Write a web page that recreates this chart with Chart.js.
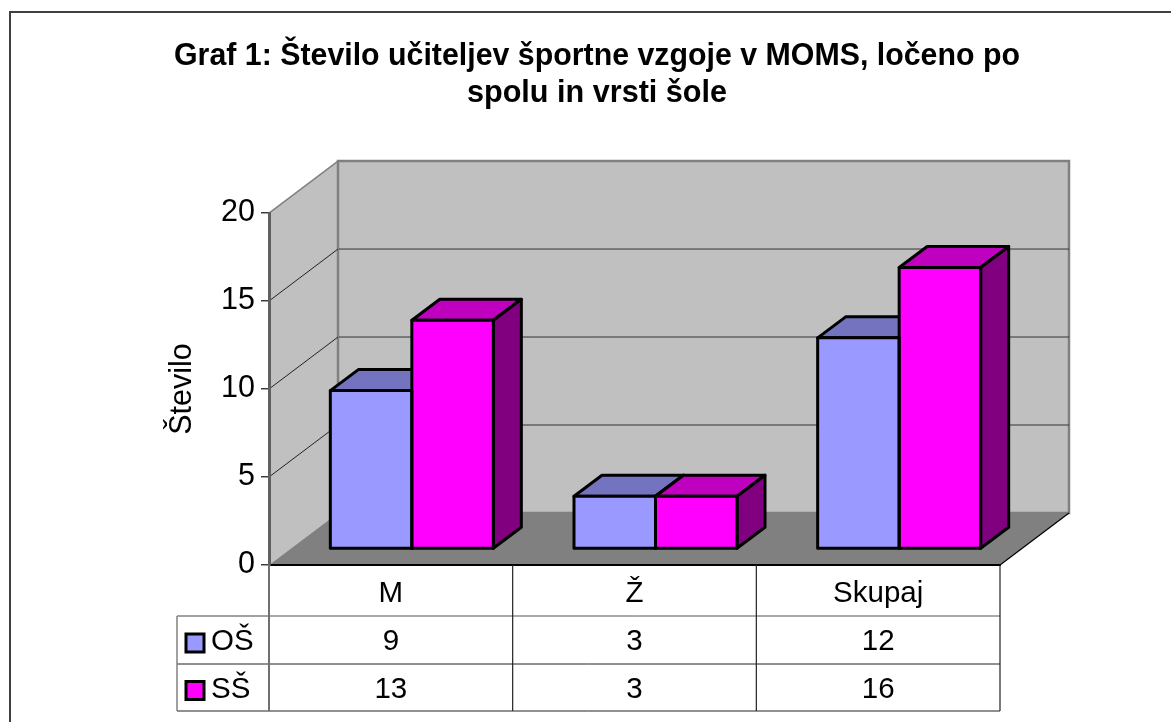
<!DOCTYPE html>
<html>
<head>
<meta charset="utf-8">
<title>Graf 1</title>
<script src="https://cdn.jsdelivr.net/npm/chart.js@4/dist/chart.umd.min.js"></script>
<style>
  html, body { margin: 0; background: #fff; overflow: hidden; }
  #frame { position: absolute; left: 9px; top: 11px; right: 0; bottom: 0; border-left: 2px solid #404040; border-top: 2px solid #404040; }
  #chart { position: absolute; left: 0; top: 0; }
</style>
</head>
<body>
<div id="frame"></div>
<canvas id="chart" width="1171" height="722"></canvas>
<script>
const categories = ["M", "Ž", "Skupaj"]
const osValues = [9, 3, 12]
const ssValues = [13, 3, 16]
const yTicks = [0, 5, 10, 15, 20]
const titleLines = ["Graf 1: Število učiteljev športne vzgoje v MOMS, ločeno po", "spolu in vrsti šole"]

const FONT = "'Liberation Sans', Arial, sans-serif"
const wall = { dx: 69, dy: 52 }       // back wall offset from the front plane
const plane = { dx: 21, dy: 16 }      // where the bars stand
const depth = { dx: 28, dy: 21 }      // bar depth
const lw = 3
const rows = [51, 99, 146]            // table lines below the axis

// top and side shades per dataset
const shades = [
  { top: "#7373bf", side: "#4d4d80" },
  { top: "#bf00bf", side: "#800080" }
]

function poly(ctx, pts, fill, stroke, width) {
  ctx.beginPath()
  pts.forEach((p, i) => i ? ctx.lineTo(p[0], p[1]) : ctx.moveTo(p[0], p[1]))
  ctx.closePath()
  if (fill) { ctx.fillStyle = fill; ctx.fill() }
  if (stroke) { ctx.strokeStyle = stroke; ctx.lineWidth = width; ctx.stroke() }
}

function line(ctx, x1, y1, x2, y2, color, width) {
  ctx.beginPath()
  ctx.moveTo(x1, y1)
  ctx.lineTo(x2, y2)
  ctx.strokeStyle = color
  ctx.lineWidth = width
  ctx.stroke()
}

const box3d = {
  id: "box3d",
  afterLayout(chart) {
    // the title sits right of the canvas centre in the original
    chart.titleBlock.left += 20
    chart.titleBlock.right += 20
  },
  beforeDraw(chart) {
    const { ctx, chartArea: a, scales } = chart
    const { dx, dy } = wall
    ctx.save()
    // side wall, back wall, floor
    poly(ctx, [[a.left, a.top], [a.left + dx, a.top - dy], [a.left + dx, a.bottom - dy], [a.left, a.bottom]], "#c0c0c0")
    poly(ctx, [[a.left + dx, a.top - dy], [a.right + dx, a.top - dy], [a.right + dx, a.bottom - dy], [a.left + dx, a.bottom - dy]], "#c0c0c0", "#808080", 2.5)
    poly(ctx, [[a.left, a.bottom], [a.left + dx, a.bottom - dy], [a.right + dx, a.bottom - dy], [a.right, a.bottom]], "#808080")
    line(ctx, a.right, a.bottom, a.right + dx, a.bottom - dy, "#000", 1.2)
    line(ctx, a.left, a.top, a.left + dx, a.top - dy, "#808080", 1.5)
    // grid lines on both walls
    yTicks.forEach((v) => {
      if (v === 0 || v === 20) return
      const y = scales.y.getPixelForValue(v)
      line(ctx, a.left, y, a.left + dx, y - dy, "#222", 1)
      line(ctx, a.left + dx + 1, y - dy, a.right + dx, y - dy, "#333", 1)
    })
    ctx.restore()
  },
  beforeDatasetsDraw(chart) {
    const { ctx } = chart
    ctx.save()
    ctx.translate(plane.dx, -plane.dy)
    ctx.lineJoin = "round"
    chart.data.datasets.forEach((ds, i) => {
      chart.getDatasetMeta(i).data.forEach((bar) => {
        const l = bar.x - bar.width / 2
        const r = bar.x + bar.width / 2
        const t = bar.y
        const b = bar.base
        poly(ctx, [[l, t], [l + depth.dx, t - depth.dy], [r + depth.dx, t - depth.dy], [r, t]], shades[i].top, "#000", lw)
        poly(ctx, [[r, t], [r + depth.dx, t - depth.dy], [r + depth.dx, b - depth.dy], [r, b]], shades[i].side, "#000", lw)
      })
    })
  },
  afterDatasetsDraw(chart) {
    const { ctx } = chart
    // outline of the front faces, centred on the bar edges
    chart.data.datasets.forEach((ds, i) => {
      chart.getDatasetMeta(i).data.forEach((bar) => {
        ctx.strokeStyle = "#000"
        ctx.lineWidth = lw
        ctx.strokeRect(bar.x - bar.width / 2, bar.y, bar.width, bar.base - bar.y)
      })
    })
    ctx.restore()
  }
}

const dataTable = {
  id: "dataTable",
  afterDraw(chart) {
    const { ctx, chartArea: a, scales } = chart
    const tableLeft = a.left - 92
    const y0 = a.bottom
    ctx.save()
    // rows
    rows.forEach((h, i) => {
      line(ctx, i ? tableLeft : a.left, y0 + h, a.right, y0 + h, i === 0 ? "#555" : "#222", 1)
      if (i === 0) line(ctx, tableLeft, y0 + h, a.left, y0 + h, "#444", 1)
    })
    // columns
    line(ctx, tableLeft, y0 + rows[0], tableLeft, y0 + rows[2], "#808080", 1.5)
    line(ctx, a.left, y0, a.left, y0 + rows[2], "#707070", 2)
    categories.forEach((c, i) => {
      const x = scales.x.getPixelForTick(i) + (a.right - a.left) / categories.length / 2
      line(ctx, x, y0, x, y0 + rows[2], "#222", 1.2)
    })
    // cells
    ctx.font = "29.5px " + FONT
    ctx.textBaseline = "middle"
    chart.data.datasets.forEach((ds, i) => {
      const top = y0 + rows[i], mid = (top + y0 + rows[i + 1]) / 2 + 2
      ctx.fillStyle = "#000"
      ctx.textAlign = "center"
      ds.data.forEach((v, j) => ctx.fillText(String(v), scales.x.getPixelForTick(j), mid))
      ctx.textAlign = "left"
      ctx.fillText(ds.label, tableLeft + 34, mid)
      ctx.fillStyle = ds.backgroundColor
      ctx.strokeStyle = "#000"
      ctx.lineWidth = 3
      ctx.fillRect(tableLeft + 9, mid - 8, 18, 18)
      ctx.strokeRect(tableLeft + 9, mid - 8, 18, 18)
    })
    ctx.restore()
  }
}

const barStyle = { borderWidth: 0, inflateAmount: 0, barPercentage: 1, categoryPercentage: 0.669, clip: false }

new Chart(document.getElementById("chart"), {
  type: "bar",
  plugins: [box3d, dataTable],
  data: {
    labels: categories,
    datasets: [
      { label: "OŠ", data: osValues, backgroundColor: "#9999ff", ...barStyle },
      { label: "SŠ", data: ssValues, backgroundColor: "#ff00ff", ...barStyle }
    ]
  },
  options: {
    responsive: false,
    animation: false,
    layout: { padding: { left: 154, right: 171, top: 0, bottom: 0 } },
    plugins: {
      legend: { display: false },
      tooltip: { enabled: false },
      title: {
        display: true,
        text: titleLines,
        color: "#000",
        font: { family: FONT, size: 30.6, weight: "bold", lineHeight: 1.21 },
        padding: { top: 38, bottom: 101 }
      }
    },
    scales: {
      x: {
        grid: { display: false },
        border: { color: "#000", width: 2 },
        ticks: { color: "#000", font: { family: FONT, size: 29.5 }, padding: 3, autoSkip: false, maxRotation: 0 },
        afterFit(scale) { scale.height = 157 }
      },
      y: {
        min: 0,
        max: 20,
        afterBuildTicks(scale) { scale.ticks = yTicks.map((v) => ({ value: v })) },
        grid: { drawOnChartArea: false, color: "#404040", lineWidth: 1.5, tickLength: 8 },
        border: { color: "#606060", width: 3 },
        ticks: { color: "#000", font: { family: FONT, size: 30.5 }, padding: 6 },
        title: { display: true, text: "Število", color: "#000", font: { family: FONT, size: 30.5 }, padding: 10 },
        afterFit(scale) { scale.width = 115 }
      }
    }
  }
})
</script>
</body>
</html>
